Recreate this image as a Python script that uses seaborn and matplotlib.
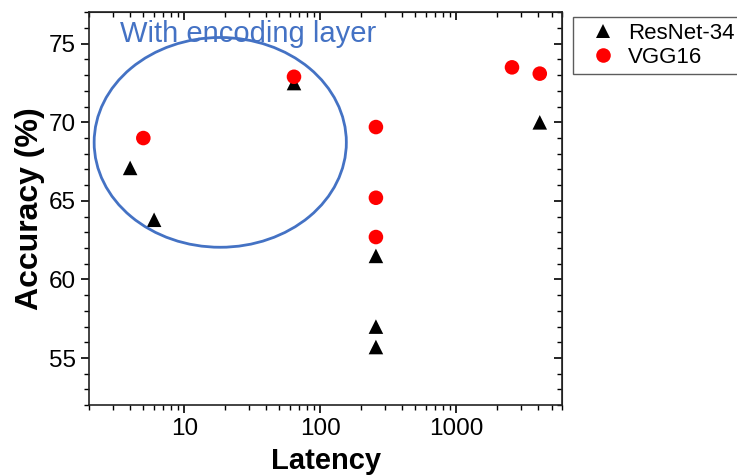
import matplotlib
matplotlib.use('Agg')

import pandas as pd
import matplotlib.pyplot as plt
import seaborn as sns
from matplotlib.patches import Ellipse
from matplotlib.ticker import LogLocator, MultipleLocator, NullFormatter, FuncFormatter

# Datos
resnet_lat = [4, 6, 64, 256, 256, 256, 4096]
resnet_acc = [67.1, 63.8, 72.5, 61.5, 57.0, 55.7, 70.0]
vgg_lat = [5, 64, 256, 256, 256, 2560, 4096]
vgg_acc = [69.0, 72.9, 69.7, 65.2, 62.7, 73.5, 73.1]
modelos = ["ResNet-34", "VGG16"]

df = pd.DataFrame({
    "Latency": resnet_lat + vgg_lat,
    "Accuracy": resnet_acc + vgg_acc,
    "Model": [modelos[0]] * len(resnet_lat) + [modelos[1]] * len(vgg_lat),
})

sns.set_style("ticks")
plt.rcParams['font.family'] = ['Liberation Sans', 'DejaVu Sans']
plt.rcParams['text.color'] = 'black'
plt.rcParams['axes.labelcolor'] = 'black'
plt.rcParams['xtick.color'] = 'black'
plt.rcParams['ytick.color'] = 'black'

fig = plt.figure(figsize=(7.37, 4.75), dpi=100)
ax = fig.add_axes([0.121, 0.147, 0.642, 0.827])

sns.scatterplot(data=df, x="Latency", y="Accuracy", hue="Model", style="Model",
                palette={"ResNet-34": "black", "VGG16": "red"},
                markers={"ResNet-34": "^", "VGG16": "o"},
                s=110, linewidth=0, ax=ax, legend=True)

ax.set_xscale("log")
ax.set_xlim(2.0, 6000)
ax.set_ylim(52, 77)
ax.xaxis.set_major_locator(LogLocator(base=10, numticks=10))
ax.xaxis.set_major_formatter(FuncFormatter(lambda v, p: f"{v:.0f}"))
ax.xaxis.set_minor_locator(LogLocator(base=10, subs=range(2, 10), numticks=20))
ax.xaxis.set_minor_formatter(NullFormatter())
ax.yaxis.set_major_locator(MultipleLocator(5))
ax.yaxis.set_minor_locator(MultipleLocator(1))

ax.set_xlabel("Latency", fontsize=21, fontweight="bold", labelpad=5)
ax.set_ylabel("Accuracy (%)", fontsize=23, fontweight="bold", labelpad=3)
ax.tick_params(axis="both", which="major", labelsize=17.5, length=6, width=1.2)
ax.tick_params(axis="both", which="minor", length=3.5, width=1.0)

# ejes secundarios con ticks hacia dentro
for sp in ax.spines.values():
    sp.set_visible(True)
    sp.set_linewidth(1.2)
    sp.set_color("#222222")
sec_x = ax.secondary_xaxis("top")
sec_x.tick_params(which="major", direction="in", length=6, width=1.2, labeltop=False)
sec_x.tick_params(which="minor", direction="in", length=3.5, width=1.0)
sec_x.xaxis.set_major_locator(LogLocator(base=10, numticks=10))
sec_x.xaxis.set_minor_locator(LogLocator(base=10, subs=range(2, 10), numticks=20))
sec_x.xaxis.set_minor_formatter(NullFormatter())
sec_x.set_xticklabels([])
sec_y = ax.secondary_yaxis("right")
sec_y.tick_params(which="major", direction="in", length=6, width=1.2, labelright=False)
sec_y.tick_params(which="minor", direction="in", length=3.5, width=1.0)
sec_y.yaxis.set_major_locator(MultipleLocator(5))
sec_y.yaxis.set_minor_locator(MultipleLocator(1))
sec_y.set_yticklabels([])

# elipse y texto de anotacion
ax.add_patch(Ellipse((0.277, 0.669), 0.533, 0.534, transform=ax.transAxes,
                     fill=False, edgecolor="#4472C4", linewidth=2))
ax.text(0.066, 0.945, "With encoding layer", transform=ax.transAxes,
        fontsize=21, color="#4472C4", va="center", ha="left")

leg = ax.legend(loc="upper left", bbox_to_anchor=(0.777, 0.964),
                bbox_transform=fig.transFigure, borderaxespad=0, fontsize=16,
                frameon=True, fancybox=False, edgecolor="#333333", borderpad=0.25,
                handlelength=2.2, handletextpad=0.05, labelspacing=0.15,
                markerscale=1.0)
leg.get_frame().set_linewidth(1.0)

plt.savefig("out.png", dpi=100)
plt.close()
